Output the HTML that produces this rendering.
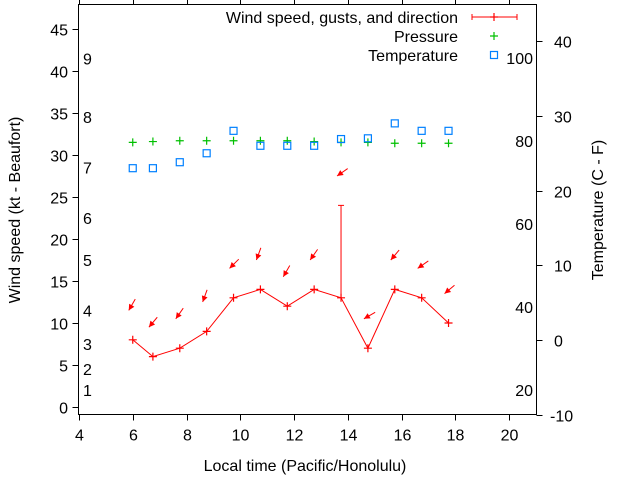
<!DOCTYPE html>
<html><head><meta charset="utf-8"><style>
body{margin:0;background:#fff}
svg{font-family:"Liberation Sans",sans-serif;font-size:16px}
</style></head><body>
<svg id="c" width="640" height="480" viewBox="0 0 640 480"></svg>
<script>
const times=[6,6.75,7.75,8.75,9.75,10.75,11.75,12.75,13.75,14.75,15.75,16.75,17.75];
const windKt=[8,6,7,9,13,14,12,14,13,7,14,13,10];
const gustKt=[null,null,null,null,null,null,null,null,24,null,null,null,null];
const windDir=[30,40,35,20,45,20,30,35,55,60,40,55,50];
const pressure=[31.5,31.6,31.7,31.7,31.7,31.7,31.7,31.6,31.5,31.5,31.4,31.4,31.4];
const tempC=[23,23,23.8,25,28,26,26,26,26.9,27,29,28,28];
const xTicks=[4,6,8,10,12,14,16,18,20];
const yTicks=[0,5,10,15,20,25,30,35,40,45];
const y2Ticks=[-10,0,10,20,30,40];
const beaufortLabels=["1","2","3","4","5","6","7","8","9"];
const beaufortKt=[2,4.5,7.5,11.5,17.5,22.5,28.5,34.5,41.5];
const fahrLabels=["20","40","60","80","100"];
const fahrVals=[20,40,60,80,100];

const L=78.5,R=536.5,T=4.5,B=414.5;
const X=v=>79+(v-4)*26.875;
const Y=v=>407-v*8.4;
const Y2=v=>340-v*7.47;
const svg=document.getElementById('c');
const NS='http://www.w3.org/2000/svg';
function mk(t,a,p){const e=document.createElementNS(NS,t);for(const k in a)e.setAttribute(k,a[k]);(p||svg).appendChild(e);return e;}
function txt(s,x,y,anchor,p){const e=mk('text',{x:x,y:y,'text-anchor':anchor||'middle',fill:'#000'},p);e.textContent=s;return e;}

const frame=mk('rect',{x:L,y:T,width:R-L,height:B-T,fill:'none',stroke:'#000','stroke-width':1});



const gx=mk('g',{});


xTicks.forEach(v=>{const x=Math.round(X(v))+0.5;
 mk('line',{x1:x,x2:x,y1:B,y2:B+6,stroke:'#000'},gx);
 mk('line',{x1:x,x2:x,y1:T,y2:T-6,stroke:'#000'},gx);
 const t=txt(String(v),x,B+26,'middle',gx);
 
 });
const gy=mk('g',{});


yTicks.forEach(v=>{const y=Math.round(Y(v))+0.5;
 mk('line',{x1:L-6,x2:L,y1:y,y2:y,stroke:'#000'},gy);
 const t=txt(String(v),68,y+6,'end',gy);
 
 });
const gy2=mk('g',{});


y2Ticks.forEach(v=>{const y=Math.round(Y2(v))+0.5;
 mk('line',{x1:R,x2:R+6,y1:y,y2:y,stroke:'#000'},gy2);
 const t=txt(String(v),v<0?550:554,y+6,'start',gy2);
 
 });
beaufortLabels.forEach((s,i)=>{const t=txt(s,83,Y(beaufortKt[i])+6,'start');
 
 });
fahrLabels.forEach((s,i)=>{const t=txt(s,533,Y2((fahrVals[i]-32)*5/9)+6,'end');
 
 });

const xt=txt('Local time (Pacific/Honolulu)',305,471);


const yt=txt('Wind speed (kt - Beaufort)',0,0);
yt.setAttribute('transform','translate(20,210) rotate(-90)');


const y2t=txt('Temperature (C - F)',0,0);
y2t.setAttribute('transform','translate(603,210) rotate(-90)');



function plus(x,y,col,p){mk('path',{d:`M${x-4},${y}h8M${x},${y-4}v8`,stroke:col,'stroke-width':1.2},p);}
function square(x,y,p){mk('rect',{x:x-3.5,y:y-3.5,width:7,height:7,fill:'none',stroke:'#0080ff','stroke-width':1.2},p);}

const gp=mk('g',{});


times.forEach((t,i)=>plus(X(t),Y(pressure[i]),'#00c000',gp));
const gt=mk('g',{});


times.forEach((t,i)=>square(X(t),Y2(tempC[i]),gt));
const gw=mk('g',{});


mk('polyline',{points:times.map((t,i)=>X(t)+','+Y(windKt[i])).join(' '),fill:'none',stroke:'#f00'},gw);
times.forEach((t,i)=>{plus(X(t),Y(windKt[i]),'#f00',gw);
 if(gustKt[i]!=null){const x=X(t);mk('path',{d:`M${x},${Y(windKt[i])}V${Y(gustKt[i])}M${x-3},${Y(gustKt[i])}h6`,stroke:'#f00'},gw);}
});
const ga=mk('g',{});


times.forEach((t,i)=>{const top=Math.max(windKt[i],gustKt[i]||0)+3.5;
 const hx=X(t)-4,hy=Y(top);const a=windDir[i]*Math.PI/180;
 const dx=Math.sin(a),dy=-Math.cos(a);
 const tx=hx+dx*13,ty=hy+dy*13;
 mk('line',{x1:tx,y1:ty,x2:hx,y2:hy,stroke:'#f00'},ga);
 const px=-dy,py=dx;
 mk('polygon',{points:`${hx},${hy} ${hx+dx*6+px*3},${hy+dy*6+py*3} ${hx+dx*6-px*3},${hy+dy*6-py*3}`,fill:'#f00'},ga);
});
const lg=mk('g',{});


const l1=txt('Wind speed, gusts, and direction',458,23,'end',lg);


mk('path',{d:'M472,17H517M472,14v6M517,14v6',stroke:'#f00'},lg);plus(494,17,'#f00',lg);
const l2=txt('Pressure',458,42,'end',lg);


plus(494,36,'#00c000',lg);
const l3=txt('Temperature',458,61,'end',lg);


square(494,55,lg);
</script></body></html>
